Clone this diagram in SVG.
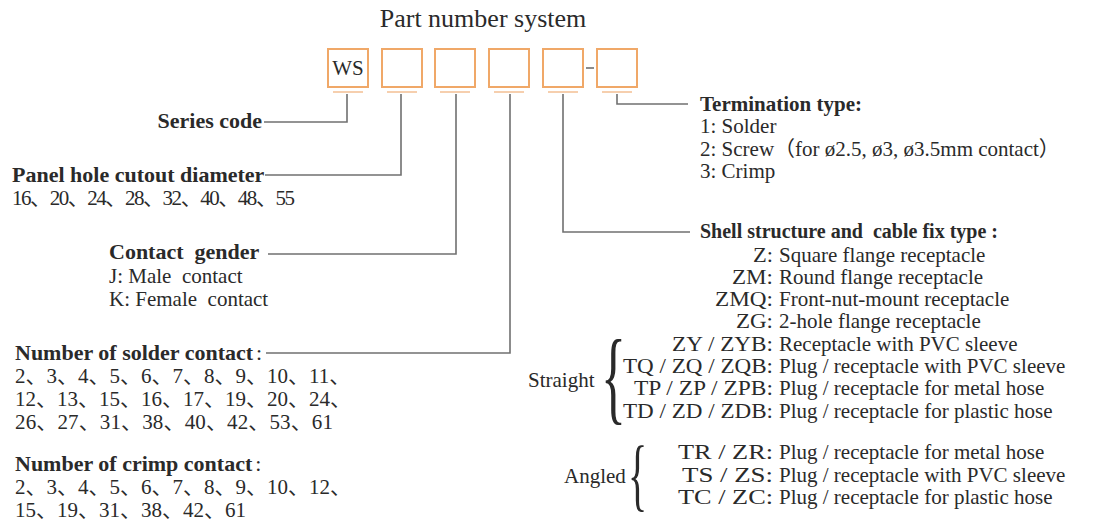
<svg xmlns="http://www.w3.org/2000/svg" width="1095" height="522" viewBox="0 0 1095 522">
<style>
.t{font-family:"Liberation Serif",serif;font-size:26px;fill:#2a2a2a}
.lb{font-family:"Liberation Serif",serif;font-size:22px;font-weight:bold;fill:#2a2a2a}
.b{font-family:"Liberation Serif",serif;font-size:21px;font-weight:bold;fill:#2a2a2a}
.rg{font-family:"Liberation Serif",serif;font-size:21px;fill:#2a2a2a}
.cj{font-family:"Liberation Serif","Noto Sans CJK SC",serif;font-size:21px;fill:#2a2a2a}
.box{fill:#fff;stroke:#f0a868;stroke-width:2}
.ul{stroke:#f6cfae;stroke-width:2}
.c{fill:none;stroke:#707070;stroke-width:1.6}
.e{text-anchor:end}
</style>
<rect width="1095" height="522" fill="#fff"/>
<text class="t" x="483" y="27" text-anchor="middle">Part number system</text>
<g id="box1"><rect class="box" x="328" y="49" width="40" height="38"/><line class="ul" x1="333" y1="92" x2="363" y2="92"/><text class="rg" x="348" y="75" text-anchor="middle">WS</text></g>
<g id="box2"><rect class="box" x="382" y="49" width="40" height="38"/><line class="ul" x1="387" y1="92" x2="417" y2="92"/></g>
<g id="box3"><rect class="box" x="435" y="49" width="40" height="38"/><line class="ul" x1="440" y1="92" x2="470" y2="92"/></g>
<g id="box4"><rect class="box" x="489" y="49" width="40" height="38"/><line class="ul" x1="494" y1="92" x2="524" y2="92"/></g>
<g id="box5"><rect class="box" x="543" y="49" width="40" height="38"/><line class="ul" x1="548" y1="92" x2="578" y2="92"/></g>
<g id="box6"><rect class="box" x="597" y="49" width="40" height="38"/><line class="ul" x1="602" y1="92" x2="632" y2="92"/></g>
<g id="connectors">
<line x1="586" y1="68" x2="594" y2="68" stroke="#707070" stroke-width="1.6"/>
<polyline class="c" points="347,94 347,122 264,122"/>
<polyline class="c" points="401,94 401,175 265,175"/>
<polyline class="c" points="456,94 456,254 268,254"/>
<polyline class="c" points="510,94 510,353 266,353"/>
<polyline class="c" points="563,94 563,232 690,232"/>
<polyline class="c" points="617,94 617,104 688,104"/>
</g>
<g id="series"><text class="lb e" x="262" y="128">Series code</text></g>
<g id="panel"><text class="lb" x="12" y="182">Panel hole cutout diameter</text>
<text class="cj" x="12" y="205" textLength="283" lengthAdjust="spacing">16、20、24、28、32、40、48、55</text></g>
<g id="gender"><text class="lb" x="109" y="259" xml:space="preserve">Contact  gender</text>
<text class="rg" x="109" y="283" xml:space="preserve">J: Male  contact</text>
<text class="rg" x="109" y="306" xml:space="preserve">K: Female  contact</text></g>
<g id="solder"><text class="lb" x="15" y="360">Number of solder contact<tspan font-weight="normal" dx="3">:</tspan></text>
<text class="cj" x="15" y="383">2、3、4、5、6、7、8、9、10、11、</text>
<text class="cj" x="15" y="406">12、13、15、16、17、19、20、24、</text>
<text class="cj" x="15" y="429" textLength="318" lengthAdjust="spacing">26、27、31、38、40、42、53、61</text></g>
<g id="crimp"><text class="lb" x="15" y="471">Number of crimp contact<tspan font-weight="normal" dx="3">:</tspan></text>
<text class="cj" x="15" y="494">2、3、4、5、6、7、8、9、10、12、</text>
<text class="cj" x="15" y="517">15、19、31、38、42、61</text></g>
<g id="termination"><text class="b" x="700" y="111">Termination type:</text>
<text class="rg" x="700" y="133">1: Solder</text>
<text class="cj" x="700" y="156">2: Screw（for ø2.5, ø3, ø3.5mm contact）</text>
<text class="rg" x="700" y="178">3: Crimp</text></g>
<g id="shell"><text class="b" x="700" y="238" xml:space="preserve" style="font-size:20px">Shell structure and  cable fix type :</text>
<text class="rg e" x="773" y="262" textLength="20" lengthAdjust="spacingAndGlyphs">Z:</text><text class="rg" x="779" y="262">Square flange receptacle</text>
<text class="rg e" x="773" y="284" textLength="41" lengthAdjust="spacingAndGlyphs">ZM:</text><text class="rg" x="779" y="284">Round flange receptacle</text>
<text class="rg e" x="773" y="306" textLength="58" lengthAdjust="spacingAndGlyphs">ZMQ:</text><text class="rg" x="779" y="306">Front-nut-mount receptacle</text>
<text class="rg e" x="773" y="328" textLength="37" lengthAdjust="spacingAndGlyphs">ZG:</text><text class="rg" x="779" y="328">2-hole flange receptacle</text>
<text class="rg e" x="773" y="351" textLength="101" lengthAdjust="spacingAndGlyphs">ZY / ZYB:</text><text class="rg" x="779" y="351">Receptacle with PVC sleeve</text>
<text class="rg e" x="773" y="373" textLength="150" lengthAdjust="spacingAndGlyphs">TQ / ZQ / ZQB:</text><text class="rg" x="779" y="373">Plug / receptacle with PVC sleeve</text>
<text class="rg e" x="773" y="395" textLength="139" lengthAdjust="spacingAndGlyphs">TP / ZP / ZPB:</text><text class="rg" x="779" y="395">Plug / receptacle for metal hose</text>
<text class="rg e" x="773" y="418" textLength="150" lengthAdjust="spacingAndGlyphs">TD / ZD / ZDB:</text><text class="rg" x="779" y="418">Plug / receptacle for plastic hose</text>
<text class="rg e" x="773" y="459" textLength="95" lengthAdjust="spacingAndGlyphs">TR / ZR:</text><text class="rg" x="779" y="459">Plug / receptacle for metal hose</text>
<text class="rg e" x="773" y="482" textLength="91" lengthAdjust="spacingAndGlyphs">TS / ZS:</text><text class="rg" x="779" y="482">Plug / receptacle with PVC sleeve</text>
<text class="rg e" x="773" y="504" textLength="95" lengthAdjust="spacingAndGlyphs">TC / ZC:</text><text class="rg" x="779" y="504">Plug / receptacle for plastic hose</text>
<text class="rg" x="528" y="387">Straight</text>
<text class="rg" transform="translate(601,411) scale(0.5,1)" style="font-size:104px">{</text>
<text class="rg" x="564" y="483">Angled</text>
<text class="rg" transform="translate(628,501) scale(0.5,1)" style="font-size:80px">{</text></g>
</svg>
